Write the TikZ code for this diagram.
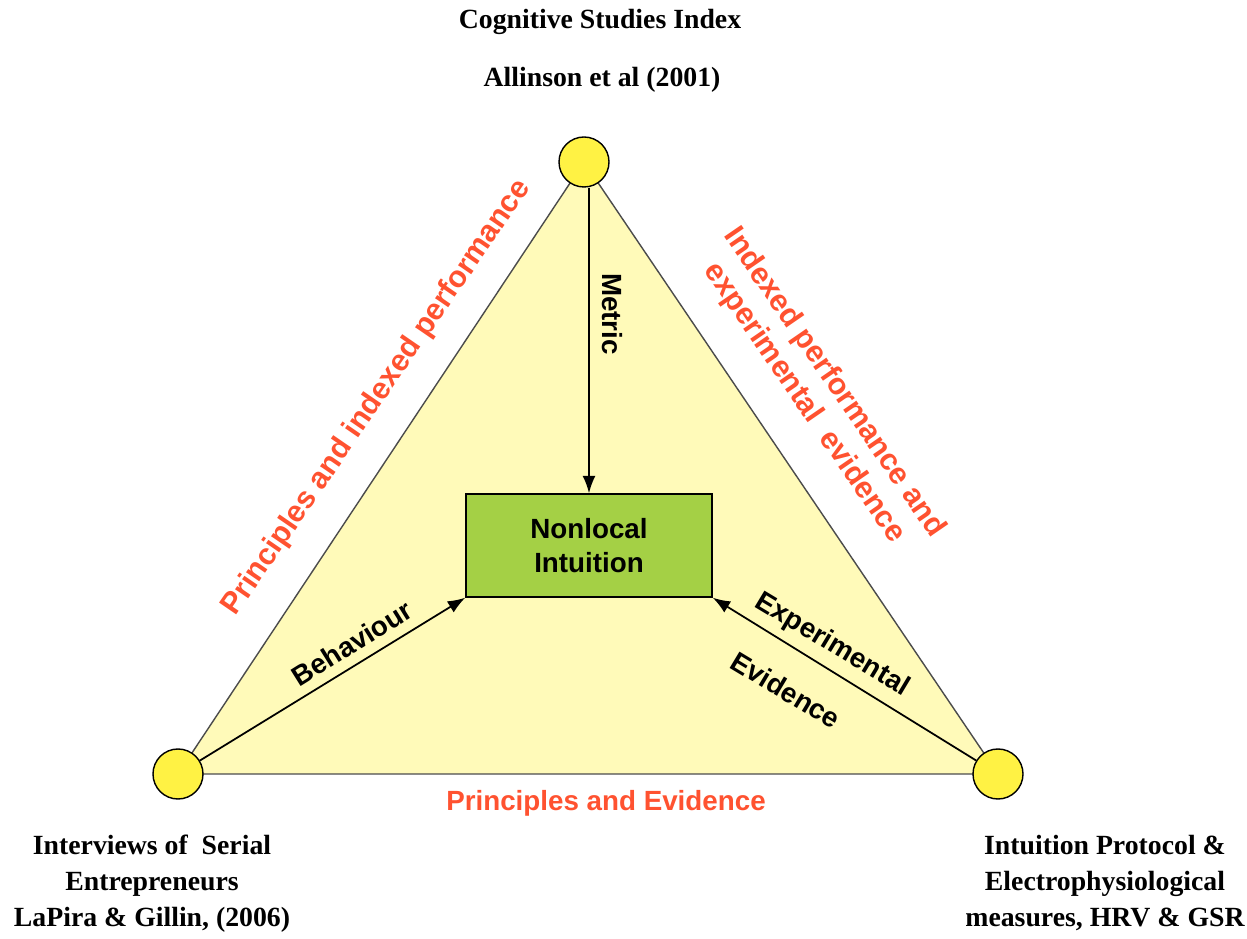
\documentclass[tikz,border=0pt]{standalone}
\usepackage{fontspec}
\setmainfont{Liberation Serif}
\newfontfamily\lblfont{Liberation Sans}
\usetikzlibrary{arrows.meta}
\definecolor{trifill}{HTML}{FFFAB9}
\definecolor{dotfill}{HTML}{FFF244}
\definecolor{boxfill}{HTML}{A4D045}
\definecolor{redlbl}{HTML}{FF5230}
\tikzset{
	vertex/.style={circle,draw=black,line width=0.8pt,fill=dotfill,minimum size=1cm,inner sep=0pt},
	src/.style={font=\fontsize{15.8}{20.5}\selectfont\bfseries,align=center},
	lbl/.style={font=\lblfont\fontsize{15.8}{19}\selectfont\bfseries},
	sidelbl/.style={lbl,text=redlbl,align=center},
	biglbl/.style={sidelbl,font=\lblfont\fontsize{17.2}{20.5}\selectfont\bfseries},
	link/.style={line width=1pt,-{Latex[length=3.5mm,width=2.6mm]}}
}
\begin{document}
\begin{tikzpicture}
	\useasboundingbox (0,0) rectangle (24.94,18.76);
	\coordinate (top) at (11.68,15.52);
	\coordinate (left) at (3.56,3.28);
	\coordinate (right) at (19.96,3.28);
	% triangle
	\filldraw[fill=trifill,draw=black!70,line width=0.8pt] (top) -- (left) -- (right) -- cycle;
	\node[vertex] (cT) at (top) {};
	\node[vertex] (cL) at (left) {};
	\node[vertex] (cR) at (right) {};
	\node[draw=black,line width=0.8pt,fill=boxfill,minimum width=4.92cm,minimum height=2.06cm,lbl,align=center] (box) at (11.78,7.85) {Nonlocal\\Intuition};
	% arrows
	\draw[link] (box.north |- cT.south) -- (box.north);
	\draw[link] (cL) -- (box.south west);
	\draw[link] (cR) -- (box.south east);
	\node[lbl,rotate=-90] (metric) at (12.24,12.48) {Metric};
	\node[lbl,rotate=32] (behav) at (7.04,5.9) {Behaviour};
	\node[lbl,rotate=-31] (exper) at (16.64,5.86) {Experimental};
	\node[lbl,rotate=-31] (evid) at (15.72,4.96) {Evidence};
	% edge labels
	\node[biglbl,rotate=55.5] (pip) at (7.54,10.8) {Principles and indexed performance};
	\node[biglbl,rotate=-55.5] (ipe) at (16.38,10.9) {Indexed performance and\\experimental\ \ evidence};
	\node[sidelbl] (pae) at (12.12,2.7) {Principles and Evidence};
	% sources
	\node[src] (csi) at (12.0,18.32) {Cognitive Studies Index};
	\node[src] (all) at (12.04,17.16) {Allinson et al (2001)};
	\node[src] (intv) at (3.04,1.08) {Interviews of\ \ Serial\\Entrepreneurs\\LaPira \& Gillin, (2006)};
	\node[src] (prot) at (22.1,1.1) {Intuition Protocol \&\\Electrophysiological\\measures, HRV \& GSR};
\end{tikzpicture}
\end{document}
